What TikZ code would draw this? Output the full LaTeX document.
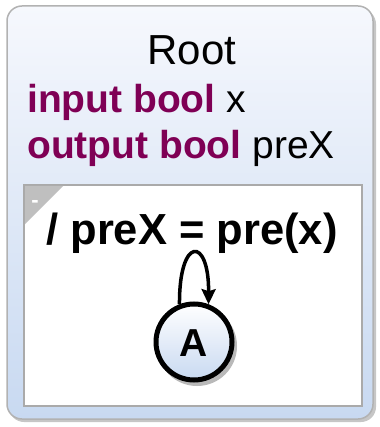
\documentclass[tikz,border=0pt]{standalone}
\usepackage{fontspec}
\setmainfont{Liberation Sans}
\usetikzlibrary{arrows.meta}
\definecolor{kw}{RGB}{127,0,85}
\definecolor{boxtop}{RGB}{246,248,253}
\definecolor{boxbot}{RGB}{200,217,241}
\definecolor{frame}{RGB}{178,178,178}
\definecolor{innerframe}{RGB}{170,170,170}
\tikzset{
  outerbox/.style={draw=frame, line width=1.5pt, rounded corners=15pt, top color=boxtop, bottom color=boxbot},
  innerbox/.style={draw=innerframe, line width=1.5pt, fill=white},
  statecirc/.style={circle, draw=black, line width=5pt, minimum size=76pt, inner sep=0pt, top color=white, bottom color=boxbot},
  loopline/.style={line width=3.5pt, -{Stealth[length=15pt,width=14pt,inset=2pt]}},
}
\begin{document}
\begin{tikzpicture}[x=1pt,y=-1pt]
\useasboundingbox (0,0) rectangle (379,427);
% shadow of outer box
\fill[gray!45, rounded corners=15pt] (9,9) rectangle (376,422);
\path[outerbox] (7,6) rectangle (373,419);
\node[anchor=base, font=\fontsize{42}{50}\selectfont] (root) at (192,65) {Root};
\node[anchor=base west, inner sep=0pt, font=\fontsize{39}{47}\selectfont] (in) at (27,113) {\textbf{\color{kw}input bool} x};
\node[anchor=base west, inner sep=0pt, font=\fontsize{39}{47}\selectfont] (out) at (27,159) {\textbf{\color{kw}output bool} preX};
% inner region
\path[innerbox] (24,185) rectangle (362,406);
\fill[gray!50] (25,186) -- (63,186) -- (25,224) -- cycle;
\node[text=white, font=\bfseries\fontsize{22}{24}\selectfont, inner sep=0pt] (dash) at (35,204) {-};
\node[anchor=base, inner sep=0pt, font=\bfseries\fontsize{43.5}{52}\selectfont] (act) at (192,244) {/ preX = pre(x)};
% state
\fill[gray!55] (197,346) circle (40pt);
\node[statecirc] (A) at (194,342) {};
\node[font=\bfseries\fontsize{39}{46}\selectfont] (Al) at (194,343) {A};
\draw[loopline] (A.111) .. controls (179,236) and (209,236) .. (A.69);
\end{tikzpicture}
\end{document}
